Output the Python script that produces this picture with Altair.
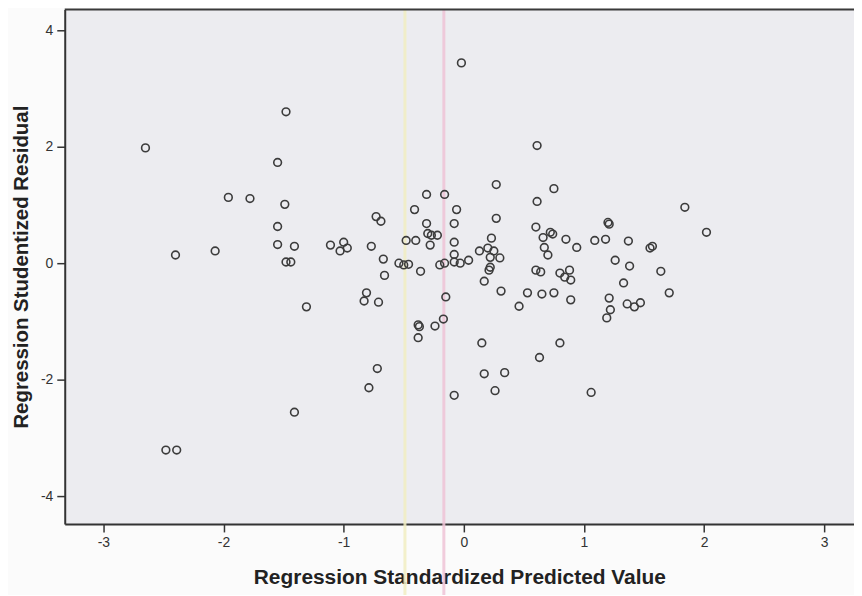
import altair as alt
import pandas as pd

# Regression Standardized Predicted Value (x) and Studentized Residual (y)
pred = [-2.65, -1.48, -1.55, -1.96, -1.78, -1.49, -1.55, -1.55, -1.41, -2.40,
        -2.07, -1.48, -1.44, -2.48, -2.39, -1.41, -1.31, -1.11, -1.03, -1.00,
        -0.97, -0.77, -0.73, -0.69, -0.67, -0.66, -0.81, -0.83, -0.71, -0.41,
        -0.31, -0.16, -0.06, -0.08, -0.31, -0.30, -0.27, -0.22, -0.28, -0.48,
        -0.40, -0.54, -0.50, -0.46, -0.36, -0.20, -0.16, -0.08, -0.08, -0.03,
        0.04, -0.15, -0.17, -0.24, -0.38, -0.37, -0.38, -0.72, -0.79, -0.08,
        0.27, 0.27, 0.23, 0.13, 0.20, 0.25, 0.22, 0.30, 0.22, 0.21,
        0.17, 0.31, 0.75, 0.61, 0.60, 0.72, 0.74, 0.66, 0.67, 0.70,
        0.85, 0.94, 0.60, 0.64, 0.80, 0.84, 0.88, 0.89, 0.53, 0.65,
        0.75, 0.46, 0.89, 1.84, 2.02, 1.20, 1.21, 1.09, 1.18, 1.37,
        1.55, 1.57, 1.26, 1.38, 1.64, 1.33, 1.71, 1.21, 1.22, 1.19,
        1.36, 1.42, 1.47, 0.15, 0.80, 0.63, 0.17, 0.34, 0.26, 1.06,
        -0.02, 0.61, -0.08]
resid = [1.98, 2.60, 1.73, 1.13, 1.11, 1.01, 0.63, 0.32, 0.29, 0.14,
         0.21, 0.02, 0.02, -3.21, -3.21, -2.56, -0.75, 0.31, 0.21, 0.36,
         0.26, 0.29, 0.80, 0.72, 0.07, -0.21, -0.51, -0.65, -0.67, 0.92,
         1.18, 1.18, 0.92, 0.68, 0.68, 0.51, 0.48, 0.48, 0.31, 0.39,
         0.39, 0.00, -0.03, -0.02, -0.14, -0.03, 0.00, 0.15, 0.02, 0.00,
         0.05, -0.58, -0.96, -1.08, -1.06, -1.09, -1.28, -1.81, -2.14, -2.27,
         1.35, 0.77, 0.43, 0.21, 0.26, 0.21, 0.10, 0.09, -0.07, -0.12,
         -0.31, -0.48, 1.28, 1.06, 0.62, 0.53, 0.50, 0.44, 0.27, 0.14,
         0.41, 0.27, -0.12, -0.15, -0.17, -0.24, -0.12, -0.29, -0.51, -0.53,
         -0.51, -0.74, -0.63, 0.96, 0.53, 0.70, 0.67, 0.39, 0.41, 0.38,
         0.26, 0.29, 0.05, -0.05, -0.14, -0.34, -0.51, -0.60, -0.80, -0.94,
         -0.70, -0.75, -0.68, -1.37, -1.37, -1.62, -1.90, -1.88, -2.19, -2.22,
         3.44, 2.02, 0.36]

x_ticks = [-3, -2, -1, 0, 1, 2, 3]
y_ticks = [-4, -2, 0, 2, 4]

# faint coloured scan stripes visible in the picture
stripe_pos = [-0.49, -0.166]
stripe_col = ["#F1EDC2", "#EFC3D6"]

W, H = 793, 517
FONT = "Liberation Sans"

df = pd.DataFrame({"pred": pred, "resid": resid})
stripes = pd.DataFrame({"pred": stripe_pos, "c": stripe_col})

xscale = alt.Scale(domain=[-3.322, 3.248], nice=False, zero=False)
yscale = alt.Scale(domain=[-4.479, 4.359], nice=False, zero=False)

xaxis = alt.Axis(title="Regression Standardized Predicted Value", values=x_ticks,
                 labelExpr="datum.value + ''", grid=False, labelFlush=False,
                 labelOverlap=False, titleFontSize=21, titlePadding=17)
yaxis = alt.Axis(title="Regression Studentized Residual", values=y_ticks,
                 labelExpr="datum.value + ''", grid=False, labelFlush=False,
                 labelOverlap=False, titleFontSize=20.5, titlePadding=9)

stripe_layer = alt.Chart(stripes).mark_rule(strokeWidth=3, opacity=0.85).encode(
    x=alt.X("pred:Q", scale=xscale, axis=xaxis),
    y=alt.value(0),
    y2=alt.value(H + 72),
    color=alt.Color("c:N", scale=None),
)

frame_top = alt.Chart(pd.DataFrame({"a": [0]})).mark_rule(
    color="#3a3a3a", strokeWidth=2).encode(
    x=alt.value(0), x2=alt.value(W), y=alt.value(0))

points = alt.Chart(df).mark_point(
    shape="circle", filled=False, size=60, strokeWidth=1.6,
    color="#3c3c3c", opacity=1).encode(
    x=alt.X("pred:Q", scale=xscale, axis=xaxis),
    y=alt.Y("resid:Q", scale=yscale, axis=yaxis),
)

chart = alt.layer(stripe_layer, frame_top, points).properties(
    width=W, height=H,
    autosize=alt.AutoSizeParams(type="none"),
    padding={"left": 57, "top": 0, "right": 0, "bottom": 70},
    background="#FBFBFB",
).configure_view(
    fill="#ECECF0", stroke=None
).configure_axis(
    domainColor="#333333", domainWidth=2,
    tickColor="#333333", tickSize=8, tickWidth=1.5,
    labelFont=FONT, labelFontSize=14, labelColor="#333333", labelPadding=4,
    titleFont=FONT, titleFontWeight="bold", titleColor="#222222",
)

chart.save("out.html", embed_options={"renderer": "svg", "actions": False})
